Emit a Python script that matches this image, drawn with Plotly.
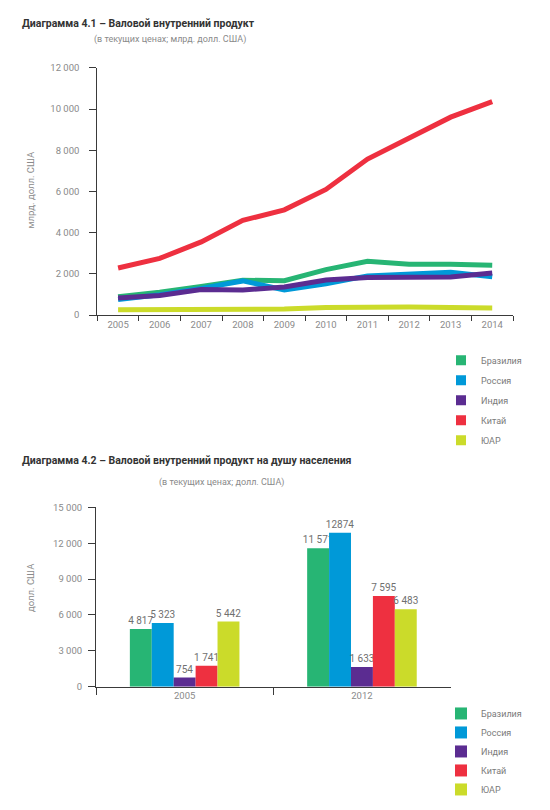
import plotly.graph_objects as go

W, H = 550, 810

years = ["2005", "2006", "2007", "2008", "2009", "2010", "2011", "2012", "2013", "2014"]
countries = ["Бразилия", "Россия", "Индия", "Китай", "ЮАР"]
colors = ["#27B574", "#0099D8", "#5B2C91", "#EE3040", "#CBDB2A"]

gdp_brazil = [892, 1108, 1397, 1696, 1667, 2209, 2616, 2465, 2473, 2417]
gdp_russia = [764, 990, 1300, 1661, 1223, 1525, 1905, 2017, 2079, 1861]
gdp_india = [834, 949, 1239, 1224, 1365, 1708, 1823, 1828, 1857, 2042]
gdp_china = [2286, 2752, 3552, 4598, 5110, 6101, 7573, 8561, 9607, 10360]
gdp_sa = [257, 271, 299, 287, 297, 375, 416, 397, 366, 350]
gdp_series = [gdp_brazil, gdp_russia, gdp_india, gdp_china, gdp_sa]

pc_years = ["2005", "2012"]
pc_brazil = [4817, 11571]
pc_russia = [5323, 12874]
pc_india = [754, 1633]
pc_china = [1741, 7595]
pc_sa = [5442, 6483]
pc_series = [pc_brazil, pc_russia, pc_india, pc_china, pc_sa]
pc_labels = [["4 817", "11 571"], ["5 323", "12874"], ["754", "1 633"],
             ["1 741", "7 595"], ["5 442", "6 483"]]

FONT = "Roboto"
GRAY = "#8a8a8a"

fig = go.Figure()

# line chart: draw order yellow, red, green, blue, purple
for i in [4, 3, 0, 1, 2]:
    fig.add_trace(go.Scatter(
        x=years, y=gdp_series[i], mode="lines", name=countries[i],
        line=dict(color=colors[i], width=5), showlegend=False,
        xaxis="x", yaxis="y"))
# legend entries for line chart (square swatches)
for i in range(5):
    fig.add_trace(go.Scatter(
        x=[None], y=[None], mode="markers", name=countries[i],
        marker=dict(color=colors[i], symbol="square", size=10),
        legend="legend", legendgroup="a%d" % i, xaxis="x", yaxis="y"))

# bar chart
for i in range(5):
    fig.add_trace(go.Bar(
        x=pc_years, y=pc_series[i], name=countries[i],
        marker=dict(color=colors[i], line=dict(width=0)),
        text=pc_labels[i], textposition="outside", cliponaxis=False,
        constraintext="none",
        textfont=dict(family=FONT, size=10, color="#707070"),
        legend="legend2", xaxis="x2", yaxis="y2"))

def px_x(p):
    return p / W

def px_y(p):
    return 1 - p / H

axis_common = dict(
    showgrid=False, zeroline=False, showline=True, linecolor="#3a3a3a", linewidth=1,
    ticks="outside", tickcolor="#3a3a3a", tickwidth=1,
    tickfont=dict(family=FONT, size=9.5, color=GRAY),
)

fig.update_layout(
    width=W, height=H,
    margin=dict(l=0, r=0, t=0, b=0),
    paper_bgcolor="white", plot_bgcolor="white",
    separators=", ",
    barmode="group", bargap=0.382, bargroupgap=0,
    font=dict(family=FONT, color=GRAY),
    xaxis=dict(domain=[px_x(97.3), px_x(513)], anchor="y", type="category",
               range=[-0.5, 9.5], tickson="boundaries", ticklen=5, **axis_common),
    yaxis=dict(domain=[px_y(313.4), px_y(62.7)], anchor="x", range=[0, 12000],
               dtick=2000, tickformat=",d", ticklen=7, ticklabelstandoff=8, **axis_common),
    xaxis2=dict(domain=[px_x(96), px_x(450.6)], anchor="y2", type="category",
                range=[-0.5, 1.5], tickson="boundaries", ticklen=7, **axis_common),
    yaxis2=dict(domain=[px_y(690), px_y(508.3)], anchor="x2", range=[0, 15000],
                dtick=3000, tickformat=",d", ticklen=7, ticklabelstandoff=4, **axis_common),
    legend=dict(x=px_x(441), y=px_y(344.5), xanchor="left", yanchor="top",
                font=dict(family=FONT, size=9, color="#7a7a7a"),
                bgcolor="rgba(0,0,0,0)", tracegroupgap=1),
    legend2=dict(x=px_x(441), y=px_y(702.5), xanchor="left", yanchor="top",
                 font=dict(family=FONT, size=9, color="#7a7a7a"),
                 bgcolor="rgba(0,0,0,0)", tracegroupgap=0),
)

annotations = [
    dict(text="<b>Диаграмма 4.1 – Валовой внутренний продукт</b>", x=px_x(20), y=px_y(17.5),
         font=dict(family=FONT, size=10.5, color="#333333")),
    dict(text="(в текущих ценах; млрд. долл. США)", x=px_x(92), y=px_y(34),
         font=dict(family=FONT, size=9, color=GRAY)),
    dict(text="<b>Диаграмма 4.2 – Валовой внутренний продукт на душу населения</b>", x=px_x(20), y=px_y(460.5),
         font=dict(family=FONT, size=10.5, color="#333333")),
    dict(text="(в текущих ценах; долл. США)", x=px_x(157), y=px_y(483),
         font=dict(family=FONT, size=9, color=GRAY)),
]
for a in annotations:
    a.update(xref="paper", yref="paper", xanchor="left", yanchor="middle", showarrow=False)
annotations += [
    dict(text="млрд. долл. США", x=px_x(30.5), y=px_y(186.5), textangle=-90,
         font=dict(family=FONT, size=9.5, color=GRAY)),
    dict(text="долл. США", x=px_x(31), y=px_y(590), textangle=-90,
         font=dict(family=FONT, size=9.5, color=GRAY)),
]
for a in annotations[-2:]:
    a.update(xref="paper", yref="paper", xanchor="center", yanchor="middle", showarrow=False)
fig.update_layout(annotations=annotations)

fig.write_html("out.html", config={"displayModeBar": False},
               post_script="document.body.style.margin='0';document.body.style.overflow='hidden';")
